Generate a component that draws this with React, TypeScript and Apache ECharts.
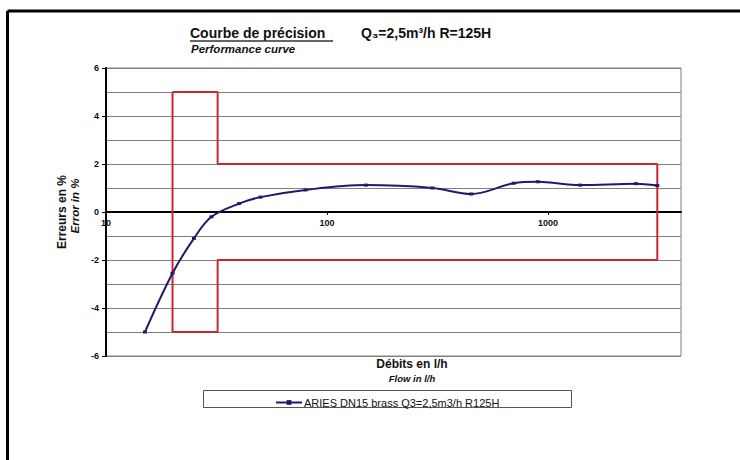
import React, { useEffect, useRef } from "react";
import * as echarts from "echarts";

const seriesName = "ARIES DN15 brass Q3=2,5m3/h R125H";
const flow = [15, 20, 25, 30, 40, 50, 80, 150, 300, 450, 700, 900, 1400, 2500, 3125];
const errorPct = [-5, -2.55, -1.1, -0.2, 0.35, 0.62, 0.92, 1.12, 1.0, 0.75, 1.2, 1.26, 1.12, 1.18, 1.1];

const limitFlow = [20, 32, 32, 3125, 3125, 32, 32, 20, 20];
const limitError = [5, 5, 2, 2, -2, -2, -5, -5, 5];

const xTicks = [10, 100, 1000];
const yMin = -6;
const yMax = 6;
const yStep = 2;

const FONT = "'Liberation Sans', Arial, sans-serif";

const GRID_TOP = 68;
const GRID_BOTTOM = 104;
const GRID_H = 460 - GRID_TOP - GRID_BOTTOM;
// move the x axis up to the y = 0 crossing
const X_OFFSET = -GRID_H * (0 - yMin) / (yMax - yMin);

const isTick = (v: number) => xTicks.some((t) => Math.abs(t - v) < 1e-6);

export default function App() {
  const ref = useRef<HTMLDivElement>(null);

  useEffect(() => {
    if (!ref.current) return;
    const chart = echarts.init(ref.current, undefined, { renderer: "svg" });
    const curve = flow.map((f, i) => [f, errorPct[i]]);
    const limits = limitFlow.map((f, i) => [f, limitError[i]]);

    chart.setOption({
      animation: false,
      backgroundColor: "#ffffff",
      textStyle: { fontFamily: FONT },
      grid: {
        left: 106,
        right: 59,
        top: GRID_TOP,
        bottom: GRID_BOTTOM,
        show: true,
        borderColor: "#808080",
        borderWidth: 1,
      },
      legend: {
        data: [seriesName],
        left: 270,
        top: 392,
        itemWidth: 26,
        itemHeight: 6,
        itemGap: 0,
        textStyle: { fontFamily: FONT, fontSize: 11, color: "#111", padding: [0, 0, 0, -3] },
      },
      xAxis: {
        type: "log",
        logBase: 10,
        min: 10,
        max: 4000,
        offset: X_OFFSET,
        axisLine: { onZero: false, lineStyle: { color: "#000", width: 2 } },
        axisTick: {
          show: true,
          length: 3,
          lineStyle: { color: "#000" },
        },
        axisLabel: {
          fontSize: 9,
          fontWeight: "bold",
          color: "#111",
          margin: 6,
          showMaxLabel: false,
          formatter: (v: number) => (isTick(v) ? String(v) : ""),
        },
        splitLine: { show: false },
      },
      yAxis: {
        type: "value",
        min: yMin,
        max: yMax,
        interval: yStep,
        axisLine: { show: true, onZero: false, lineStyle: { color: "#000", width: 2 } },
        axisTick: { show: true, length: 4, lineStyle: { color: "#000" } },
        axisLabel: { fontSize: 9, fontWeight: "bold", color: "#111", margin: 7 },
        splitLine: { show: true, lineStyle: { color: "#808080", width: 1 } },
        minorTick: { show: false, splitNumber: 2 },
        minorSplitLine: { show: true, lineStyle: { color: "#808080", width: 1 } },
      },
      graphic: [
        {
          type: "line",
          shape: { x1: 7.5, y1: 11, x2: 740, y2: 11 },
          style: { stroke: "#000", lineWidth: 3 },
        },
        {
          type: "line",
          shape: { x1: 7.5, y1: 11, x2: 7.5, y2: 460 },
          style: { stroke: "#000", lineWidth: 3 },
        },
        {
          type: "text",
          x: 190,
          y: 33,
          style: {
            text: "Courbe de précision",
            font: `bold 14px ${FONT}`,
            fill: "#111",
            textVerticalAlign: "middle",
          },
        },
        {
          type: "line",
          shape: { x1: 190, y1: 41, x2: 333, y2: 41 },
          style: { stroke: "#333", lineWidth: 1.5 },
        },
        {
          type: "text",
          x: 361,
          y: 33,
          style: {
            text: "Q₃=2,5m³/h R=125H",
            font: `bold 14px ${FONT}`,
            fill: "#111",
            textVerticalAlign: "middle",
          },
        },
        {
          type: "text",
          x: 191,
          y: 49,
          style: {
            text: "Performance curve",
            font: `italic bold 11.5px ${FONT}`,
            fill: "#111",
            textVerticalAlign: "middle",
          },
        },
        {
          type: "text",
          x: 62,
          y: 212,
          rotation: Math.PI / 2,
          style: {
            text: "Erreurs en %",
            font: `bold 12px ${FONT}`,
            fill: "#111",
            textAlign: "center",
            textVerticalAlign: "middle",
          },
        },
        {
          type: "text",
          x: 75,
          y: 206,
          rotation: Math.PI / 2,
          style: {
            text: "Error in %",
            font: `italic bold 11.5px ${FONT}`,
            fill: "#111",
            textAlign: "center",
            textVerticalAlign: "middle",
          },
        },
        {
          type: "text",
          x: 412,
          y: 364,
          style: {
            text: "Débits en l/h",
            font: `bold 12px ${FONT}`,
            fill: "#111",
            textAlign: "center",
            textVerticalAlign: "middle",
          },
        },
        {
          type: "text",
          x: 412,
          y: 378,
          style: {
            text: "Flow in l/h",
            font: `italic bold 9.5px ${FONT}`,
            fill: "#111",
            textAlign: "center",
            textVerticalAlign: "middle",
          },
        },
        {
          type: "rect",
          shape: { x: 203.5, y: 390.5, width: 368, height: 17 },
          style: { fill: "none", stroke: "#555", lineWidth: 1 },
        },
      ],
      series: [
        {
          name: "limits",
          type: "line",
          data: limits,
          showSymbol: false,
          symbol: "none",
          lineStyle: { color: "#c8282e", width: 2 },
          silent: true,
          z: 2,
        },
        {
          name: seriesName,
          type: "line",
          data: curve,
          smooth: 0.35,
          symbol: "rect",
          symbolSize: [4, 3],
          itemStyle: { color: "#1c1c6b" },
          lineStyle: { color: "#1c1c6b", width: 2 },
          z: 3,
        },
      ],
    });

    return () => chart.dispose();
  }, []);

  return (
    <div
      ref={ref}
      style={{ position: "absolute", left: 0, top: 0, width: 740, height: 460, background: "#fff" }}
    />
  );
}
